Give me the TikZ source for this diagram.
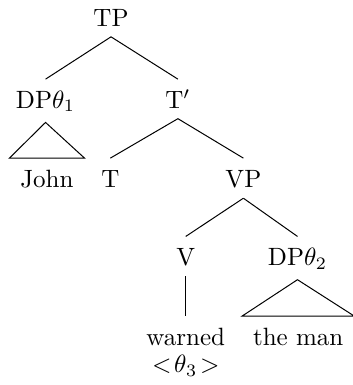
\documentclass[tikz,border=0pt]{standalone}
\begin{document}
\begin{tikzpicture}[
    cat/.style={anchor=base, text height=7.4pt, inner ysep=4pt},
    word/.style={anchor=base, text height=7.4pt, inner ysep=4pt, inner xsep=4.2pt}
]
\useasboundingbox (0,0) rectangle (4.96,-5.41);

% Level 0
\node[cat] (tp) at (1.56, -0.37) {TP};

% Level 1
\node[cat] (dp1) at (0.64, -1.52) {DP$\theta_1$};
\node[cat] (tbar) at (2.50, -1.52) {T$'$};

% Level 2
\node[word] (john) at (0.66, -2.63) {John};
\node[cat] (t) at (1.55, -2.63) {T};
\node[cat] (vp) at (3.42, -2.63) {VP};

% Level 3
\node[cat] (v) at (2.61, -3.73) {V};
\node[cat] (dp2) at (4.18, -3.73) {DP$\theta_2$};

% Level 4
\node[cat] (warned) at (2.61, -4.85) {warned};
\node[anchor=base] (theta3) at (2.61, -5.24) {$<\!\theta_3\!>$};
\node[word] (man) at (4.19, -4.85) {the man};

% Branches
\draw (tp.south) -- (dp1.north);
\draw (tp.south) -- (tbar.north);
\draw (tbar.south) -- (t.north);
\draw (tbar.south) -- (vp.north);
\draw (vp.south) -- (v.north);
\draw (vp.south) -- (dp2.north);
\draw (v.south) -- (warned.north);

% Roofs
\draw (dp1.south) -- (john.north west) -- (john.north east) -- cycle;
\draw (dp2.south) -- (man.north west) -- (man.north east) -- cycle;

\end{tikzpicture}
\end{document}
